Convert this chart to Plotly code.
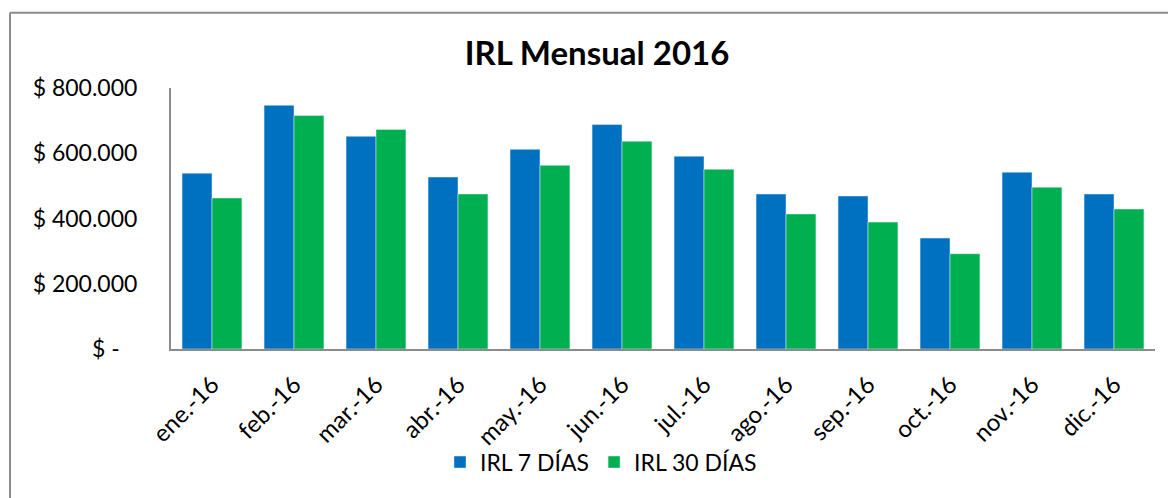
import plotly.graph_objects as go

months = ["ene.-16", "feb.-16", "mar.-16", "abr.-16", "may.-16", "jun.-16",
          "jul.-16", "ago.-16", "sep.-16", "oct.-16", "nov.-16", "dic.-16"]
irl_7 = [539000, 747000, 652000, 527000, 612000, 688000,
         591000, 475000, 469000, 340000, 542000, 475000]
irl_30 = [463000, 716000, 673000, 475000, 563000, 637000,
          551000, 414000, 389000, 292000, 496000, 429000]
y_ticks = [0, 200000, 400000, 600000, 800000]
y_tick_text = ["$ -\u00a0\u00a0\u00a0", "$ 200.000", "$ 400.000", "$ 600.000", "$ 800.000"]

FONT = "Lato, Carlito, Calibri, sans-serif"

# page body has an 8px margin; the figure is sized/offset to compensate
W, H, OFF = 1168, 490, 8
PL, PR, PT, PB = 171, 1155, 87.5, 349.5  # plot area in page pixels
PW, PH = PR - PL, PB - PT

fig = go.Figure()
fig.add_trace(go.Bar(x=months, y=irl_7, name="IRL 7 DÍAS", marker_color="#0070C0"))
fig.add_trace(go.Bar(x=months, y=irl_30, name="IRL 30 DÍAS", marker_color="#00B050"))

fig.update_layout(
    width=W, height=H,
    margin=dict(l=PL - OFF, r=W + OFF - PR, t=PT - OFF, b=H + OFF - PB),
    paper_bgcolor="white", plot_bgcolor="white",
    font=dict(family=FONT, color="black", size=22),
    title=dict(text="<b>IRL Mensual 2016</b>", x=(597 - OFF) / W, xanchor="center",
               y=1 - (53 - OFF) / H, yanchor="middle",
               font=dict(family=FONT, size=33, color="black")),
    barmode="group", bargap=0.27, bargroupgap=0,
    showlegend=True,
    legend=dict(orientation="h", x=(601 - PL) / PW, xanchor="center",
                y=(PB - 463) / PH, yanchor="middle",
                font=dict(family=FONT, size=23), bgcolor="rgba(0,0,0,0)",
                itemclick=False),
    xaxis=dict(showline=True, linecolor="#8c8c8c", linewidth=2, ticks="",
               tickangle=-45, showgrid=False, tickfont=dict(size=24),
               ticklabelstandoff=10),
    yaxis=dict(range=[0, 800000], tickvals=y_ticks, ticktext=y_tick_text,
               showline=True, linecolor="#8c8c8c", linewidth=2, ticks="",
               showgrid=False, zeroline=False, ticklabelstandoff=27,
               tickfont=dict(size=23)),
    shapes=[
        dict(type="line", xref="paper", yref="paper",
             x0=(10 - PL) / PW, x1=(10 - PL) / PW,
             y0=(PB - 12) / PH, y1=(PB - 505) / PH,
             line=dict(color="#8c8c8c", width=2)),
        dict(type="line", xref="paper", yref="paper",
             x0=(10 - PL) / PW, x1=(1180 - PL) / PW,
             y0=(PB - 12) / PH, y1=(PB - 12) / PH,
             line=dict(color="#8c8c8c", width=2)),
    ],
)

fig.write_html("out.html")
